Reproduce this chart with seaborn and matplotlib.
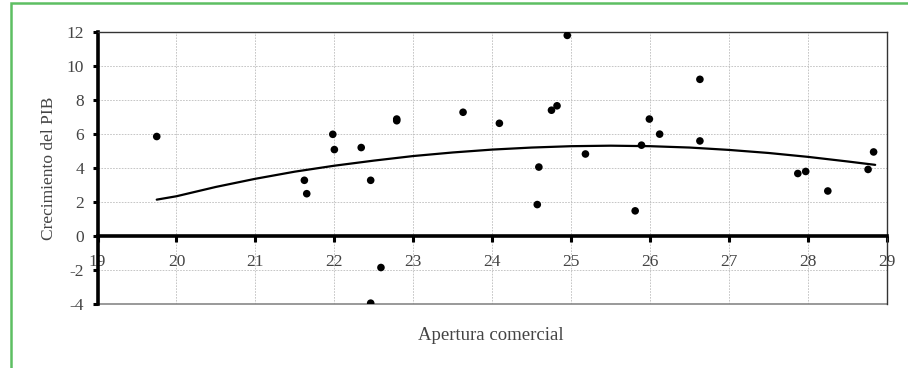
import numpy as np
import pandas as pd
import matplotlib
matplotlib.use("Agg")
import matplotlib.pyplot as plt
from matplotlib.patches import Rectangle
import seaborn as sns

# scatter data
apertura = [19.75, 21.62, 21.65, 21.98, 22.00, 22.34, 22.46, 22.79, 22.79, 23.63,
            22.59, 22.46, 24.09, 24.95, 24.75, 24.82, 24.59, 24.57, 25.18, 25.89,
            25.99, 26.12, 25.81, 26.63, 26.63, 27.87, 27.97, 28.25, 28.76, 28.83]
crecimiento = [5.87, 3.29, 2.50, 6.00, 5.10, 5.22, 3.29, 6.90, 6.80, 7.30,
               -1.85, -3.95, 6.65, 11.83, 7.42, 7.68, 4.07, 1.86, 4.84, 5.36,
               6.90, 6.01, 1.49, 9.24, 5.61, 3.69, 3.81, 2.66, 3.93, 4.96]

# fitted curve
fit_x = [19.75, 20.0, 20.5, 21.0, 21.5, 22.0, 22.5, 23.0, 23.5, 24.0,
         24.5, 25.0, 25.5, 26.0, 26.5, 27.0, 27.5, 28.0, 28.5, 28.85]
fit_y = [2.15, 2.35, 2.90, 3.38, 3.80, 4.15, 4.45, 4.72, 4.93, 5.10,
         5.22, 5.30, 5.33, 5.30, 5.22, 5.08, 4.90, 4.67, 4.40, 4.20]

x_ticks = list(range(19, 30))
y_ticks = list(range(-4, 13, 2))

sns.set_style("white")
plt.rcParams['font.family'] = ['Liberation Serif', 'DejaVu Serif']
plt.rcParams['axes.unicode_minus'] = False

fig = plt.figure(figsize=(9.08, 3.68), dpi=100)
ax = fig.add_axes([0.1074, 0.1739, 0.8695, 0.7378])

pts = pd.DataFrame({"x": apertura, "y": crecimiento})
fit = pd.DataFrame({"x": fit_x, "y": fit_y})

sns.lineplot(data=fit, x="x", y="y", ax=ax, color="black", linewidth=1.6,
             sort=False, estimator=None, zorder=3)
sns.scatterplot(data=pts, x="x", y="y", ax=ax, color="black", s=30,
                edgecolor="none", zorder=4)

ax.set_xlim(19, 29)
ax.set_ylim(-4, 12)
ax.set_xticks(x_ticks)
ax.set_yticks(y_ticks)
ax.grid(True, color="#bdbdbd", linestyle=(0, (2, 1.5)), linewidth=0.6)
ax.set_axisbelow(True)

ax.spines['bottom'].set_position(('data', 0))
ax.spines['bottom'].set_linewidth(2.6)
ax.spines['left'].set_linewidth(2.6)
ax.spines['bottom'].set_color("black")
ax.spines['left'].set_color("black")
ax.spines['top'].set_linewidth(1.0)
ax.spines['top'].set_color("#333333")
ax.spines['right'].set_linewidth(1.0)
ax.spines['right'].set_color("#333333")
ax.axhline(-4, color="#888888", linewidth=1.2, zorder=2, clip_on=False)

ax.tick_params(axis='x', direction='out', length=4, width=2.2, pad=9,
               labelsize=12.5, colors="black", labelcolor="#444444")
ax.tick_params(axis='y', direction='out', length=3.5, width=2.2, pad=6,
               labelsize=12.5, colors="black", labelcolor="#444444")
ax.tick_params(axis='both', bottom=True, left=True)

ax.set_xlabel("")
ax.set_ylabel("Crecimiento del PIB", fontsize=12.5, color="#444444", labelpad=7)
fig.text(0.54, 0.088, "Apertura comercial", ha="center", va="center",
         fontsize=13.5, color="#444444")

# green frame around the figure
fig.patches.append(Rectangle((10.5 / 908, -0.05), 1.2, 1.05 - 3.0 / 368,
                             transform=fig.transFigure, fill=False,
                             edgecolor="#5dbf62", linewidth=1.8))

fig.savefig("out.png", dpi=100)
